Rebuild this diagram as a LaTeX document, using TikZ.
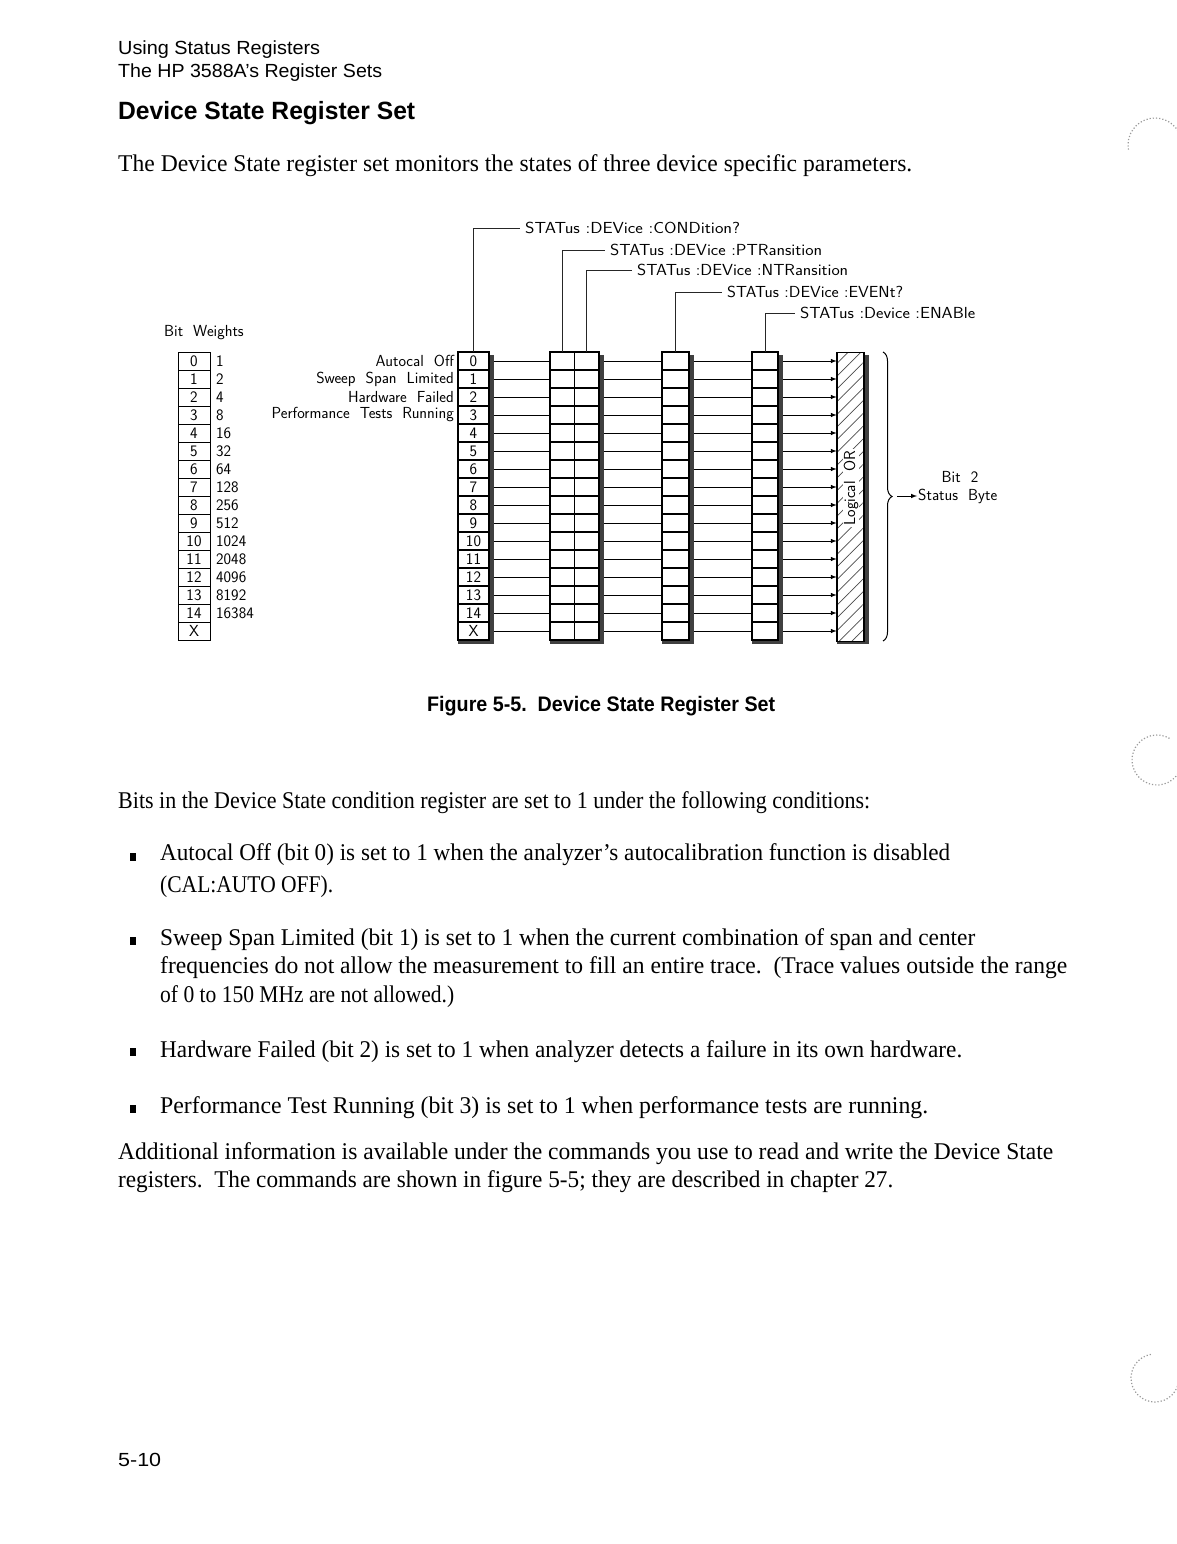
\documentclass[tikz,border=0pt]{standalone}
\usepackage{fontspec}
\usepackage{graphicx}
\setmainfont{Liberation Serif}
\newfontfamily\hpsans{Liberation Sans}
\usetikzlibrary{arrows,positioning,patterns.meta,decorations.pathreplacing}

\newcommand{\fitline}[2]{\resizebox{#1pt}{\height}{#2}}
\newcommand{\plotfont}{\sffamily\fontsize{16}{18}\selectfont}

\begin{document}
\begin{tikzpicture}[x=1pt,y=-1pt,
		cell/.style={draw, line width=1.3pt, minimum height=18pt, inner sep=0pt, outer sep=0pt, font=\plotfont},
		lbl/.style={font=\plotfont, inner sep=1pt},
		cmd/.style={font=\plotfont, anchor=west, inner sep=5pt},
		body/.style={anchor=base west, inner sep=0pt, font=\fontsize{24}{29}\selectfont},
		hdr/.style={anchor=base west, inner sep=0pt, font=\hpsans\fontsize{19}{22}\selectfont},
		shade/.style={fill=black!75},
		lead/.style={line width=1pt, black!85},
		wire/.style={line width=1pt},
		bul/.style={fill=black, minimum width=6pt, minimum height=8pt, inner sep=0pt}]
		\fill[white] (0,0) rectangle (1176,1544);
		\useasboundingbox (0,0) rectangle (1176,1544);
		% page header
		\node[hdr] (h1) at (118,55) {\fitline{202}{Using Status Registers}};
		\node[hdr] (h2) at (118,78) {\fitline{264}{The HP 3588A’s Register Sets}};
		\node[hdr, font=\hpsans\bfseries\fontsize{25}{28}\selectfont] (h3) at (118,120) {\fitline{297}{Device State Register Set}};
		\node[body] (p0) at (118,171) {\fitline{794}{The Device State register set monitors the states of three device specific parameters.}};
		% bit weights
		\node[lbl, anchor=west] (bw) at (163,333) {Bit\ \ Weights};
		\foreach \lab/\w [count=\k from 0] in {0/1,1/2,2/4,3/8,4/16,5/32,6/64,7/128,8/256,9/512,10/1024,11/2048,12/4096,13/8192,14/16384,X/{}}{
			\node[cell, line width=1pt, minimum width=32pt] (wt\k) at (194,{361+18*\k}) {\lab};
			\node[lbl, right=5pt of wt\k] {\w};
		}
		% register shadows
		\fill[shade] (489,355) rectangle (494,644);
		\fill[shade] (599,355) rectangle (604,644);
		\fill[shade] (689,355) rectangle (694,644);
		\fill[shade] (778,355) rectangle (783,644);
		\fill[shade] (864,355) rectangle (869,644);
		\fill[shade] (458,641) rectangle (494,644);
		\fill[shade] (550,641) rectangle (604,644);
		\fill[shade] (662,641) rectangle (694,644);
		\fill[shade] (752,641) rectangle (783,644);
		\fill[shade] (837,641) rectangle (869,644);
		% registers
		\foreach \lab [count=\k from 0] in {0,...,14,X}{
			\node[cell, minimum width=31pt] (cond\k) at (473.5,{361+18*\k}) {\lab};
			\node[cell, minimum width=24.5pt] (ptr\k) at (562.25,{361+18*\k}) {};
			\node[cell, minimum width=24.5pt] (ntr\k) at (586.75,{361+18*\k}) {};
			\node[cell, minimum width=27pt] (evt\k) at (675.5,{361+18*\k}) {};
			\node[cell, minimum width=26pt] (ena\k) at (765,{361+18*\k}) {};
		}
		\node[draw, line width=1.3pt, minimum width=27pt, minimum height=289pt, anchor=north, inner sep=0pt,
			pattern={Lines[angle=45, distance=9pt, line width=0.7pt]}, pattern color=black!70] (orbox) at (850.5,352) {};
		\node[lbl, rotate=90, fill=white] (ortxt) at (851,488) {Logical\ \ OR};
		% connections
		\foreach \k in {0,...,15}{
			\draw[wire] ([xshift=5pt]cond\k.east) -- (ptr\k.west);
			\draw[wire] ([xshift=5pt]ntr\k.east) -- (evt\k.west);
			\draw[wire] ([xshift=5pt]evt\k.east) -- (ena\k.west);
			\draw[wire, -latex] ([xshift=5pt]ena\k.east) -- (orbox.west |- ena\k);
		}
		% state labels
		\node[lbl, left=3pt of cond0] {Autocal\ \ Off};
		\node[lbl, left=3pt of cond1] {Sweep\ \ Span\ \ Limited};
		\node[lbl, left=3pt of cond2] {Hardware\ \ Failed};
		\node[lbl, left=3pt of cond3] {Performance\ \ Tests\ \ Running};
		% commands
		\node[cmd] (ccond) at (520,228) {\fitline{215}{STATus\ :DEVice\ :CONDition?}};
		\node[cmd] (cptr) at (605,250) {\fitline{212}{STATus\ :DEVice\ :PTRansition}};
		\node[cmd] (cntr) at (632,270) {\fitline{211}{STATus\ :DEVice\ :NTRansition}};
		\node[cmd] (cevt) at (722,292) {\fitline{176}{STATus\ :DEVice\ :EVENt?}};
		\node[cmd] (cena) at (795,313) {\fitline{175}{STATus\ :Device\ :ENABle}};
		\draw[lead] (cond0.north) |- (ccond.west);
		\draw[lead] (ptr0.north) |- (cptr.west);
		\draw[lead] (ntr0.north) |- (cntr.west);
		\draw[lead] (evt0.north) |- (cevt.west);
		\draw[lead] (ena0.north) |- (cena.west);
		% summary bit
		\draw[line width=1pt, decorate, decoration={brace, amplitude=9pt}] (883,352) -- (883,641);
		\coordinate (brtip) at (897,496);
		\node[lbl, anchor=west] (sbyte) at (917,496) {Status\ \ Byte};
		\node[lbl] (bit2) at (960,477) {Bit\ \ 2};
		\draw[wire, -latex] (brtip) -- (sbyte.west);
		% caption
		\node[hdr, font=\hpsans\bfseries\fontsize{21}{24}\selectfont] (cap) at (427,711) {\fitline{348}{Figure 5-5.\ \ Device State Register Set}};
		% body text
		\node[body] (p1) at (118,808) {\fitline{752}{Bits in the Device State condition register are set to 1 under the following conditions:}};
		\node[bul] (b1) at (133,857) {};
		\node[body] (p2) at (160,860) {\fitline{790}{Autocal Off (bit 0) is set to 1 when the analyzer’s autocalibration function is disabled}};
		\node[body] (p3) at (160,892) {\fitline{173}{(CAL:AUTO OFF).}};
		\node[bul] (b2) at (133,941) {};
		\node[body] (p4) at (160,945) {\fitline{815}{Sweep Span Limited (bit 1) is set to 1 when the current combination of span and center}};
		\node[body] (p5) at (160,973) {\fitline{907}{frequencies do not allow the measurement to fill an entire trace.\ \ (Trace values outside the range}};
		\node[body] (p6) at (160,1002) {\fitline{294}{of 0 to 150 MHz are not allowed.)}};
		\node[bul] (b3) at (133,1052) {};
		\node[body] (p7) at (160,1057) {\fitline{802}{Hardware Failed (bit 2) is set to 1 when analyzer detects a failure in its own hardware.}};
		\node[bul] (b4) at (133,1109) {};
		\node[body] (p8) at (160,1113) {\fitline{768}{Performance Test Running (bit 3) is set to 1 when performance tests are running.}};
		\node[body] (p9) at (118,1159) {\fitline{935}{Additional information is available under the commands you use to read and write the Device State}};
		\node[body] (p10) at (118,1187) {\fitline{775}{registers.\ \ The commands are shown in figure 5-5; they are described in chapter 27.}};
		% page number
		\node[hdr] (pg) at (118,1466) {\fitline{43}{5-10}};
		% punch hole marks
		\draw[black!40, dotted, line width=1.2pt] (1155,145) ++(170:27) arc[start angle=170, end angle=340, radius=27];
		\draw[black!40, dotted, line width=1.2pt] (1157,760) ++(-60:25) arc[start angle=-60, end angle=-330, radius=25];
		\draw[black!40, dotted, line width=1.2pt] (1155,1378) ++(-100:24) arc[start angle=-100, end angle=-370, radius=24];
	\end{tikzpicture}
\end{document}
